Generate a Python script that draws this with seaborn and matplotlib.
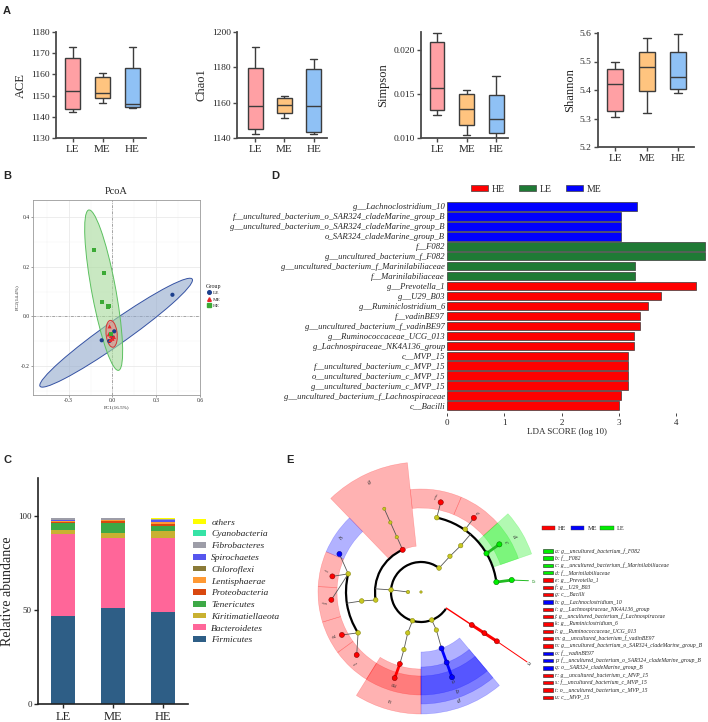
import numpy as np
import pandas as pd
import matplotlib
matplotlib.use('Agg')
import matplotlib.pyplot as plt
import seaborn as sns
from matplotlib.patches import Ellipse, Wedge, Rectangle, Arc
from matplotlib.lines import Line2D

# --- data ---------------------------------------------------------------
groups = ['LE', 'ME', 'HE']
box_palette = {'LE': '#FFA0A4', 'ME': '#FFC47F', 'HE': '#8FC1F5'}

# A: five-number summaries (min, q1, median, q3, max)
ace_vals = {'LE': [1142.4, 1143.8, 1152.0, 1167.7, 1172.7],
            'ME': [1146.5, 1148.9, 1151.2, 1158.8, 1160.7],
            'HE': [1144.2, 1144.8, 1146.0, 1163.0, 1172.7]}
chao1_vals = {'LE': [1142.0, 1145.1, 1158.3, 1179.6, 1191.5],
              'ME': [1151.5, 1154.3, 1158.7, 1162.6, 1163.6],
              'HE': [1142.0, 1143.2, 1157.9, 1179.0, 1185.0]}
simpson_vals = {'LE': [0.01267, 0.01321, 0.01573, 0.02098, 0.02200],
                'ME': [0.01038, 0.01150, 0.01332, 0.01500, 0.01544],
                'HE': [0.01000, 0.01057, 0.01219, 0.01487, 0.01713]}
shannon_vals = {'LE': [5.306, 5.326, 5.420, 5.473, 5.500],
                'ME': [5.321, 5.397, 5.480, 5.533, 5.582],
                'HE': [5.389, 5.403, 5.447, 5.533, 5.596]}

# B: PCoA sample coordinates
pcoa_x = {'LE': [0.411, -0.074, 0.012, -0.022, 0.002],
          'ME': [-0.020, -0.025, -0.010, 0.000, -0.015, 0.010],
          'HE': [-0.125, -0.058, -0.072, -0.033, -0.022, -0.008]}
pcoa_y = {'LE': [0.087, -0.096, -0.060, -0.099, -0.085],
          'ME': [-0.040, -0.072, -0.078, -0.090, -0.095, -0.083],
          'HE': [0.267, 0.176, 0.057, 0.040, 0.043, -0.070]}
# confidence ellipses: centre x, centre y, width, height, angle
ell_center_x = {'LE': 0.025, 'ME': -0.006, 'HE': -0.0605}
ell_center_y = {'LE': -0.0655, 'ME': -0.070, 'HE': 0.1055}
ell_width = {'LE': 1.13, 'ME': 0.075, 'HE': 0.677}
ell_height = {'LE': 0.105, 'ME': 0.110, 'HE': 0.160}
ell_angle = {'LE': 22.2, 'ME': 15, 'HE': 108.2}
pcoa_colors = {'LE': '#1C3F8C', 'ME': '#E8262A', 'HE': '#3BAA35'}
ell_fill = {'LE': '#92A9CC', 'ME': '#E98C8C', 'HE': '#A6DA9A'}
ell_edge = {'LE': '#3552A3', 'ME': '#D43535', 'HE': '#5CC060'}

# C: phylum relative abundance (%)
phyla = ['Firmicutes', 'Bacteroidetes', 'Kiritimatiellaeota', 'Tenericutes', 'Proteobacteria',
         'Lentisphaerae', 'Chloroflexi', 'Spirochaetes', 'Fibrobacteres', 'Cyanobacteria', 'others']
abund_le = [46.8, 43.5, 2.2, 3.4, 1.0, 0.3, 0.2, 0.3, 1.0, 0.1, 0.1]
abund_me = [51.2, 37.0, 2.4, 5.6, 1.1, 0.2, 0.1, 0.2, 1.0, 0.1, 0.1]
abund_he = [49.1, 39.1, 3.7, 2.4, 1.4, 0.8, 0.2, 0.8, 0.8, 0.1, 0.1]
phylum_colors = ['#2E5E86', '#FF6699', '#C9B131', '#3DA946', '#D9480F',
                 '#FF9933', '#8A7A38', '#5656EE', '#9D9DA8', '#36E3A6', '#FFFF00']

# D: LEfSe LDA scores
lda_features = ['g__Lachnoclostridium_10',
                'f__uncultured_bacterium_o_SAR324_cladeMarine_group_B',
                'g__uncultured_bacterium_o_SAR324_cladeMarine_group_B',
                'o_SAR324_cladeMarine_group_B',
                'f__F082',
                'g__uncultured_bacterium_f_F082',
                'g__uncultured_bacterium_f_Marinilabiliaceae',
                'f__Marinilabiliaceae',
                'g__Prevotella_1',
                'g__U29_B03',
                'g__Ruminiclostridium_6',
                'f__vadinBE97',
                'g__uncultured_bacterium_f_vadinBE97',
                'g__Ruminococcaceae_UCG_013',
                'g_Lachnospiraceae_NK4A136_group',
                'c__MVP_15',
                'f__uncultured_bacterium_c_MVP_15',
                'o__uncultured_bacterium_c_MVP_15',
                'g__uncultured_bacterium_c_MVP_15',
                'g__uncultured_bacterium_f_Lachnospiraceae',
                'c__Bacilli']
lda_scores = [3.31, 3.03, 3.03, 3.03, 4.51, 4.51, 3.28, 3.28, 4.34, 3.74, 3.50,
              3.37, 3.37, 3.27, 3.26, 3.16, 3.16, 3.16, 3.16, 3.04, 3.01]
lda_groups = ['ME'] * 4 + ['LE'] * 4 + ['HE'] * 13
lda_palette = {'HE': '#FF0000', 'LE': '#1F7A35', 'ME': '#0000FF'}

# E: cladogram (radius in px, angle in degrees)
clade_colors = {'HE': '#FF0000', 'ME': '#0000FF', 'LE': '#00EE00', 'none': '#C8C820'}
clade_edge = {'HE': '#8B0000', 'ME': '#00008B', 'LE': '#007700', 'none': '#8A8A10'}
hl_theta1 = [96, 42, 67, 134, 157, 177, 197, 216, 238, 238, 270, 270, 270, 19, 19]
hl_theta2 = [134, 67, 96, 157, 177, 197, 216, 238, 270, 270, 310, 310, 310, 42, 42]
hl_r_in = [46, 84, 84, 84, 84, 84, 84, 84, 84, 77, 60, 75, 84, 77, 84]
hl_r_out = [130, 103, 103, 103, 103, 103, 103, 103, 103, 122, 122, 112, 103, 117, 103]
hl_group = ['HE', 'HE', 'HE', 'ME', 'HE', 'HE', 'HE', 'HE', 'HE', 'HE', 'ME', 'ME', 'ME', 'LE', 'LE']
hl_letter = ['g', 'e', 'f', 'h', 'i', 'j', 'k', 'l', 'm', 'u', 'q', 'p', 'o', 'd', 'c']
hl_letter_r = [121, 96, 96, 96, 96, 96, 96, 96, 96, 112, 104, 114, 94, 108, 98]

arc_r = [30, 46, 75, 76]
arc_t1 = [53, 113.5, 166, 7.5]
arc_t2 = [326, 190, 213, 78]

node_r = [0, 13, 30, 30, 30, 30, 46, 60, 76, 91, 46, 60, 75, 75, 90, 90, 90, 90, 90,
          43, 60, 75, 90, 41, 60, 75, 90.7, 60.5, 75.6, 90.5,
          46, 61, 76.8, 76, 91, 91.8, 76, 91.7, 76, 91.5]
node_t = [0, 180, 176, 253.5, 291, 53, 113.5, 113.8, 113.8, 113.8, 190, 188.6, 166, 213,
          155, 170, 185, 208.5, 224.4,
          252, 253.5, 253.6, 253, 292, 290, 290, 290, -33, -33, -33,
          51, 49.4, 54.8, 78, 54.5, 77.6, 30.5, 31.3, 7.5, 7.5]
node_group = ['none', 'none', 'none', 'none', 'none', 'none', 'HE', 'none', 'none', 'none',
              'none', 'none', 'none', 'none', 'ME', 'HE', 'HE', 'HE', 'HE',
              'none', 'none', 'HE', 'HE', 'none', 'ME', 'ME', 'ME', 'HE', 'HE', 'HE',
              'none', 'none', 'none', 'none', 'HE', 'HE', 'LE', 'LE', 'LE', 'LE']
node_size = [3, 6, 11, 11, 11, 11, 14, 6, 6, 5, 11, 11, 11, 11, 13, 13, 13, 13, 13,
             10, 10, 13, 13, 10, 13, 13, 13, 13, 13, 13,
             10, 10, 11, 11, 14, 14, 14, 14, 14, 14]
# branches: (r1, t1) -> (r2, t2), clade group and line width
branch_r1 = [13, 30, 46, 46, 60, 75, 75, 75, 75, 75, 30, 43, 60, 75, 30, 41, 60,
             30, 60, 90, 30, 46, 61, 76, 76.8, 76, 76, 91.5]
branch_t1 = [180, 176, 113.5, 190, 188.6, 166, 166, 166, 213, 213, 253.5, 252, 253.5, 253.6,
             291, 292, 290, -32.5, -33, -33, 53, 51, 49.4, 78, 54.8, 30.5, 7.5, 7.5]
branch_r2 = [30, 46, 91, 60, 75, 90, 90, 90, 90, 90, 43, 60, 75, 90, 41, 60, 90.7,
             60, 90, 127, 46, 61, 76, 91.8, 91, 91.7, 91.5, 108]
branch_t2 = [176, 176, 113.8, 188.6, 188.6, 155, 170, 185, 208.5, 224.4, 252, 253.5, 253.6, 253,
             292, 290, 290, -33, -33, -33.4, 51, 49.4, 49.4, 77.6, 54.5, 31.3, 7.5, 6]
branch_group = ['none'] * 13 + ['HE'] + ['none'] * 2 + ['ME'] + ['HE'] * 3 + ['none'] * 5 + ['LE'] * 3
branch_width = [0.6] * 13 + [2.0] + [0.6] * 2 + [2.0] + [1.0, 2.2, 0.7] + [0.6] * 5 + [2.0, 2.0, 0.7]

legend_letters = list('abcdefghijklmnopqrstu')
legend_names = ['g__uncultured_bacterium_f_F082', 'f__F082',
                'g__uncultured_bacterium_f_Marinilabiliaceae', 'f__Marinilabiliaceae',
                'g__Prevotella_1', 'g__U29_B03', 'c__Bacilli', 'g__Lachnoclostridium_10',
                'g__Lachnospiraceae_NK4A136_group', 'g__uncultured_bacterium_f_Lachnospiraceae',
                'g__Ruminiclostridium_6', 'g__Ruminococcaceae_UCG_013',
                'g__uncultured_bacterium_f_vadinBE97',
                'g__uncultured_bacterium_o_SAR324_cladeMarine_group_B', 'f__vadinBE97',
                'f__uncultured_bacterium_o_SAR324_cladeMarine_group_B',
                'o__SAR324_cladeMarine_group_B', 'g__uncultured_bacterium_c_MVP_15',
                'f__uncultured_bacterium_c_MVP_15', 'o__uncultured_bacterium_c_MVP_15',
                'c__MVP_15']
legend_groups = ['LE'] * 4 + ['HE'] * 3 + ['ME'] + ['HE'] * 6 + ['ME'] * 3 + ['HE'] * 4

# --- figure -------------------------------------------------------------
sns.set_theme(style='ticks')
plt.rcParams['font.family'] = ['Liberation Serif', 'DejaVu Serif']
W, H = 708, 722
fig = plt.figure(figsize=(W / 100, H / 100), dpi=100)


def px_axes(x0, y0, x1, y1, **kw):
    return fig.add_axes([x0 / W, 1 - y1 / H, (x1 - x0) / W, (y1 - y0) / H], **kw)


# --- A: alpha diversity boxplots ---
alpha_panels = [
    ('ACE', ace_vals, (56, 32, 146, 138), (1130, 1180), [1130, 1140, 1150, 1160, 1170, 1180], '{:.0f}', (-0.55, 2.45)),
    ('Chao1', chao1_vals, (237, 32, 327, 138), (1140, 1200), [1140, 1160, 1180, 1200], '{:.0f}', (-0.62, 2.45)),
    ('Simpson', simpson_vals, (421, 32, 508, 138), (0.010, 0.0221), [0.010, 0.015, 0.020], '{:.3f}', (-0.54, 2.4)),
    ('Shannon', shannon_vals, (598, 33, 694, 147), (5.2, 5.6), [5.2, 5.3, 5.4, 5.5, 5.6], '{:.1f}', (-0.54, 2.5)),
]
for name, vals, box, ylim, yticks, fmt, xlim in alpha_panels:
    ax = px_axes(*box)
    df = pd.DataFrame([(g, v) for g in groups for v in vals[g]], columns=['group', 'value'])
    sns.boxplot(data=df, x='group', y='value', hue='group', order=groups, hue_order=groups,
                palette=box_palette, saturation=1, width=0.5, whis=(0, 100),
                linewidth=1.0, linecolor='#3c3c3c', legend=False, ax=ax)
    ax.set_xlim(*xlim)
    ax.set_ylim(*ylim)
    ax.set_yticks(yticks)
    ax.set_yticklabels([fmt.format(t) for t in yticks])
    ax.set_xlabel('')
    ax.set_ylabel(name, fontsize=9, labelpad=3)
    sns.despine(ax=ax)
    for s in ['left', 'bottom']:
        ax.spines[s].set_linewidth(1.3)
        ax.spines[s].set_color('#4a4a4a')
    ax.tick_params(axis='both', direction='out', length=3, width=1, color='#4a4a4a',
                   labelsize=6.8, pad=1.5)
    ax.tick_params(axis='x', labelsize=8, pad=2)

# --- B: PCoA ---
ax = px_axes(33, 200, 200, 395)
for g in ['LE', 'HE', 'ME']:
    ax.add_patch(Ellipse((ell_center_x[g], ell_center_y[g]), ell_width[g], ell_height[g],
                         angle=ell_angle[g], facecolor=ell_fill[g], alpha=0.6,
                         edgecolor='none', zorder=2))
    ax.add_patch(Ellipse((ell_center_x[g], ell_center_y[g]), ell_width[g], ell_height[g],
                         angle=ell_angle[g], facecolor='none', edgecolor=ell_edge[g], lw=0.7, zorder=2))
pdf = pd.DataFrame([(g, x, y) for g in groups for x, y in zip(pcoa_x[g], pcoa_y[g])],
                   columns=['Group', 'x', 'y'])
sns.scatterplot(data=pdf, x='x', y='y', hue='Group', style='Group', hue_order=groups,
                markers={'LE': 'o', 'ME': '^', 'HE': 's'}, palette=pcoa_colors, s=9,
                edgecolor='none', legend=False, zorder=3, ax=ax)
ax.axhline(0, color='#888888', lw=0.5, ls=(0, (4, 2, 1, 2)), zorder=1)
ax.axvline(0, color='#888888', lw=0.5, ls=(0, (4, 2, 1, 2)), zorder=1)
ax.set_xlim(-0.545, 0.60)
ax.set_ylim(-0.316, 0.468)
ax.set_xticks([-0.3, 0.0, 0.3, 0.6])
ax.set_xticklabels(['-0.3', '0.0', '0.3', '0.6'])
ax.set_yticks([-0.2, 0.0, 0.2, 0.4])
ax.set_yticklabels(['-0.2', '0.0', '0.2', '0.4'])
ax.set_xticks([-0.45, -0.15, 0.15, 0.45], minor=True)
ax.set_yticks([-0.3, -0.1, 0.1, 0.3], minor=True)
ax.grid(True, which='major', color='#E6E6E6', lw=0.5)
ax.grid(True, which='minor', color='#F2F2F2', lw=0.3)
ax.set_axisbelow(True)
ax.tick_params(which='both', labelsize=4, length=1.5, width=0.4, pad=1, color='#555555')
ax.tick_params(which='minor', length=0)
for s in ax.spines.values():
    s.set_linewidth(0.6)
    s.set_color('#9a9a9a')
ax.set_xlabel('PC1(16.5%)', fontsize=3.7, labelpad=1)
ax.set_ylabel('PC2(14.4%)', fontsize=3.7, labelpad=1)
ax.set_title('PcoA', fontsize=7.5, pad=4)
handles = [Line2D([], [], ls='', marker=m, color=pcoa_colors[g], markersize=2.6)
           for g, m in zip(groups, ['o', '^', 's'])]
fig.legend(handles, groups, title='Group', loc='upper left', bbox_to_anchor=(202 / W, 1 - 280 / H),
           frameon=False, fontsize=3.8, title_fontsize=4.3, handletextpad=0.2, labelspacing=0.35,
           handlelength=1.2, borderpad=0.2)

# --- D: LDA bar chart ---
ax = px_axes(447, 199, 706, 413)
sns.barplot(x=lda_scores, y=lda_features, hue=lda_groups, palette=lda_palette, dodge=False,
            width=0.85, saturation=1, edgecolor='#3a3a3a', linewidth=0.5, legend=False,
            orient='h', ax=ax)
ax.set_xlim(0, 4.52)
ax.set_ylim(20.75, -0.75)
ax.set_xticks([0, 1, 2, 3, 4])
for s in ax.spines.values():
    s.set_visible(False)
ax.tick_params(axis='y', length=0, labelsize=6.2, pad=1.5)
ax.tick_params(axis='x', length=2, width=0.6, labelsize=6.5, pad=2, direction='out')
for lbl in ax.get_yticklabels():
    lbl.set_fontstyle('italic')
ax.set_xlabel('LDA SCORE (log 10)', fontsize=6.5, labelpad=2)
ax.xaxis.set_label_coords((567 - 447) / 259, -0.07)
handles = [Rectangle((0, 0), 1, 1, facecolor=lda_palette[g], edgecolor='#444444', lw=0.5)
           for g in ['HE', 'LE', 'ME']]
fig.legend(handles, ['HE', 'LE', 'ME'], loc='center', bbox_to_anchor=(536 / W, 1 - 189 / H), ncol=3,
           frameon=False, fontsize=7, handlelength=1.8, handleheight=0.6, columnspacing=1.5,
           handletextpad=0.3)

# --- C: stacked bars ---
ax = px_axes(38, 478, 188, 704)
cdf = pd.DataFrame({'group': np.repeat(groups, len(phyla)),
                    'phylum': phyla * 3,
                    'value': abund_le + abund_me + abund_he})
sns.histplot(data=cdf, x='group', weights='value', hue='phylum', hue_order=phyla[::-1],
             multiple='stack', discrete=True, shrink=0.49, palette=dict(zip(phyla, phylum_colors)),
             alpha=1, linewidth=0, legend=False, ax=ax)
ax.set_xlim(-0.5, 2.5)
ax.set_ylim(0, 120)
ax.set_yticks([0, 50, 100])
ax.set_xlabel('')
ax.set_ylabel('Relative abundance', fontsize=10, labelpad=3)
sns.despine(ax=ax)
for s in ['left', 'bottom']:
    ax.spines[s].set_linewidth(1.2)
    ax.spines[s].set_color('#222222')
ax.tick_params(axis='both', direction='out', length=3, width=1, labelsize=6.5, pad=1.5)
ax.tick_params(axis='x', labelsize=9, pad=2)
handles = [Rectangle((0, 0), 1, 1, facecolor=c, edgecolor='none')
           for c in phylum_colors[::-1]]
leg = fig.legend(handles, phyla[::-1], loc='upper left', bbox_to_anchor=(184 / W, 1 - 510 / H),
                 frameon=False, fontsize=6.8, handlelength=1.4, handleheight=0.55,
                 labelspacing=0.38, handletextpad=0.6)
for t in leg.get_texts():
    t.set_fontstyle('italic')

# --- E: cladogram ---
cx, cy = 421, 592
ax = px_axes(285, 445, 545, 722)
ax.set_xlim(285 - cx, 545 - cx)
ax.set_ylim(cy - 722, cy - 445)
ax.axis('off')


def pol(r, t):
    a = np.deg2rad(t)
    return r * np.cos(a), r * np.sin(a)


for t1, t2, r0, r1, g in zip(hl_theta1, hl_theta2, hl_r_in, hl_r_out, hl_group):
    ax.add_patch(Wedge((0, 0), r1, t1, t2, width=r1 - r0, facecolor=clade_colors[g], alpha=0.3,
                       edgecolor='none', zorder=1))
    ax.add_patch(Wedge((0, 0), r1, t1, t2, width=r1 - r0, facecolor='none',
                       edgecolor=clade_colors[g], alpha=0.25, lw=0.4, zorder=1))
for t1, t2, r, letter in zip(hl_theta1, hl_theta2, hl_letter_r, hl_letter):
    tm = (t1 + t2) / 2
    x, y = pol(r, tm)
    ax.text(x, y, letter, fontsize=4.8, fontstyle='italic', ha='center', va='center',
            rotation=tm - 90, color='#333333', zorder=5)
x, y = pol(128, -33.5)
ax.text(x, y, 'n', fontsize=4.8, fontstyle='italic', ha='center', va='center', rotation=-123, zorder=5)
x, y = pol(112, 6)
ax.text(x, y, 'a', fontsize=4.8, fontstyle='italic', ha='center', va='center', rotation=-84,
        color='#339933', zorder=5)

for r, t1, t2 in zip(arc_r, arc_t1, arc_t2):
    ax.add_patch(Arc((0, 0), 2 * r, 2 * r, theta1=t1, theta2=t2, color='black', lw=1.6, zorder=2))
for r1, t1, r2, t2, g, lw in zip(branch_r1, branch_t1, branch_r2, branch_t2, branch_group, branch_width):
    x1, y1 = pol(r1, t1)
    x2, y2 = pol(r2, t2)
    col = '#555555' if g == 'none' else clade_colors[g]
    if g == 'LE':
        col = '#22BB22'
    ax.plot([x1, x2], [y1, y2], color=col, lw=lw, zorder=3, solid_capstyle='round')
nx, ny = pol(np.array(node_r), np.array(node_t))
ax.scatter(nx, ny, s=node_size, c=[clade_colors[g] for g in node_group],
           edgecolors=[clade_edge[g] for g in node_group], linewidths=0.4, zorder=4)

# overlay for panel letters and the cladogram key
ov = fig.add_axes([0, 0, 1, 1], zorder=10)
ov.set_xlim(0, W)
ov.set_ylim(H, 0)
ov.axis('off')
for letter, (x, y) in zip('ABCDE', [(3, 6), (3, 171), (3, 455), (271, 171), (286, 455)]):
    ov.text(x, y, letter, fontsize=8, fontweight='bold', family='Liberation Sans', ha='left', va='top')

for i, g in enumerate(['HE', 'ME', 'LE']):
    x0 = 541.5 + i * 29.3
    ov.add_patch(Rectangle((x0, 525.5), 13.5, 4.5, facecolor=clade_colors[g], edgecolor='#444444', lw=0.3))
    ov.text(x0 + 16.5, 528, g, fontsize=4.5, ha='left', va='center')
for i, (lt, nm, g) in enumerate(zip(legend_letters, legend_names, legend_groups)):
    y = 550.7 + i * 7.33
    ov.add_patch(Rectangle((542.5, y - 1.8), 10.5, 3.6, facecolor=clade_colors[g], edgecolor='#222222', lw=0.4))
    ov.text(555, y, f'{lt}: {nm}', fontsize=4.1, fontstyle='italic', ha='left', va='center')

fig.savefig('out.png', dpi=100)
